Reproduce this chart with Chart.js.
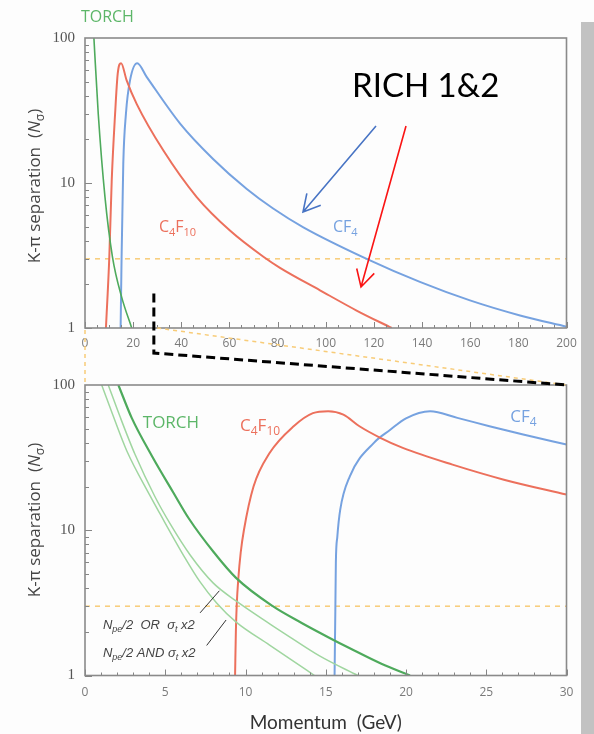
<!DOCTYPE html>
<html>
<head>
<meta charset="utf-8">
<script src="https://cdn.jsdelivr.net/npm/chart.js@4.4.1/dist/chart.umd.min.js"></script>
<style>
html, body { margin: 0; padding: 0; background: #fdfdfd; }
#page { position: relative; width: 594px; height: 734px; overflow: hidden; }
#bar { position: absolute; left: 581px; top: 22px; width: 13px; height: 712px; background: #c2c2c2; }
#topChart { position: absolute; left: 0; top: 0; width: 594px; height: 360px; }
#bottomChart { position: absolute; left: 0; top: 360px; width: 594px; height: 374px; }
#overlay { position: absolute; left: 0; top: 0; width: 594px; height: 734px; pointer-events: none; }
</style>
</head>
<body>
<div id="page">
  <div id="bar"></div>
  <canvas id="topChart" width="594" height="360"></canvas>
  <canvas id="bottomChart" width="594" height="374"></canvas>
  <canvas id="overlay" width="594" height="734"></canvas>
</div>
<script>
// axis ticks
const topTicks = [0, 20, 40, 60, 80, 100, 120, 140, 160, 180, 200];
const bottomTicks = [0, 5, 10, 15, 20, 25, 30];
const yTicks = [1, 10, 100];
const threshold = 3;

// top panel, 0-200 GeV
const torchTopP = [3.7, 5.5, 8.3, 11.4, 15.2, 19.4];
const torchTopN = [100, 30, 8.0, 3.1, 1.64, 1];
const c4f10TopP = [8.7, 10.1, 11.1, 12.5, 13.6, 15.0, 17.3, 21.5, 32.5, 46.4, 60.2, 74.1, 81, 97.6, 112.8, 127.4];
const c4f10TopN = [1, 3.1, 10.4, 30, 57, 67, 51, 35, 16.8, 8.0, 4.7, 3.1, 2.6, 1.82, 1.32, 1];
const cf4TopP = [14.8, 15.2, 15.9, 17.0, 18.7, 21.7, 25.6, 39.5, 53.3, 67.2, 78, 90.7, 117, 139.1, 159.9, 180.7, 200];
const cf4TopN = [1, 3.1, 13.6, 30, 51, 67, 54, 25.7, 14.6, 9.1, 6.7, 4.95, 3.0, 2.08, 1.55, 1.22, 1.02];

// bottom panel, 0-30 GeV
const torchP = [2.08, 2.91, 4.16, 5.5, 6.48, 8.0, 9.41, 11.7, 13.5, 15.3, 16.5, 18.5, 20.25];
const torchN = [100, 59.4, 32.6, 18.2, 12.0, 7.11, 4.70, 3.0, 2.3, 1.8, 1.54, 1.2, 1];
const torchOrP = [1.45, 2.18, 3.12, 4.36, 5.3, 6.54, 7.98, 9.41, 11.53, 12.77, 14.64, 17.0];
const torchOrN = [100, 60.6, 33.2, 17.0, 11.1, 6.78, 4.34, 3.26, 2.26, 1.84, 1.36, 1];
const torchAndP = [1.04, 1.77, 2.6, 4.05, 4.67, 6.23, 7.17, 8.2, 9.4, 11.5, 12.77, 14.3];
const torchAndN = [100, 60.6, 35.3, 17.3, 13.0, 6.46, 4.41, 3.16, 2.34, 1.62, 1.30, 1];
const c4f10P = [9.35, 9.4, 9.45, 9.55, 9.7, 9.9, 10.5, 11.5, 13.0, 14.2, 15.15, 16.1, 17.1, 18.4, 19.8, 22.9, 26.1, 30];
const c4f10N = [1, 2, 3, 4.6, 7, 10, 20, 34, 52, 64, 66, 62.5, 52, 43.3, 36.9, 28.3, 22.3, 17.6];
const cf4P = [15.55, 15.6, 15.63, 15.72, 15.9, 16.5, 18.0, 19.0, 20.0, 21.5, 23.2, 25.2, 27.3, 30];
const cf4N = [1, 3, 6, 9, 13.8, 23.5, 40, 49, 59, 66, 59.4, 52, 45.6, 38.9];

const RED = 'rgb(236,112,92)';
const BLUE = 'rgb(118,162,224)';
const GREEN = 'rgb(78,170,92)';
const LIGHTGREEN = 'rgb(160,214,160)';
const YELLOW = 'rgb(248,204,120)';

function pts(xs, ys) {
    return xs.map(function(x, i) { return {x: x, y: ys[i]}; });
}

function curve(xs, ys, color, width) {
    return {
        data: pts(xs, ys),
        borderColor: color,
        borderWidth: width,
        pointRadius: 0,
        fill: false,
        cubicInterpolationMode: 'monotone'
    };
}

function thresholdLine(lo, hi) {
    return {
        data: [{x: lo, y: threshold}, {x: hi, y: threshold}],
        borderColor: YELLOW,
        borderWidth: 1.5,
        borderDash: [5, 5],
        pointRadius: 0,
        fill: false
    };
}

// text with italic / subscript parts
function drawRich(ctx, parts, x, y, size, family, color, align) {
    let w = 0;
    const items = parts.map(function(p) {
        const s = p.sub ? Math.round(size * 0.68) : size;
        const font = (p.i ? 'italic ' : '') + s + 'px ' + family;
        ctx.font = font;
        const pw = ctx.measureText(p.t).width;
        w += pw;
        return {p: p, font: font, pw: pw};
    });
    let cx = align === 'center' ? x - w / 2 : x;
    ctx.fillStyle = color;
    ctx.textAlign = 'left';
    ctx.textBaseline = 'middle';
    items.forEach(function(it) {
        ctx.font = it.font;
        ctx.fillText(it.p.t, cx, y + (it.p.sub ? size * 0.32 : 0));
        cx += it.pw;
    });
}

const yTitle = [{t: 'K-π separation  ('}, {t: 'N', i: true}, {t: 'σ', sub: true}, {t: ')'}];

// frame, inward ticks, y title and curve labels
const decor = {
    id: 'decor',
    afterDatasetsDraw(chart, args, opts) {
        const ctx = chart.ctx;
        const a = chart.chartArea;
        const x = chart.scales.x, y = chart.scales.y;
        ctx.save();
        ctx.strokeStyle = '#858585';
        ctx.lineWidth = 1;
        ctx.beginPath();
        for (let d = 1; d < 100; d *= 10) {
            for (let k = 1; k <= 9; k++) {
                const py = Math.round(y.getPixelForValue(d * k)) + 0.5;
                const len = k === 1 ? 7 : 4;
                ctx.moveTo(a.left, py);
                ctx.lineTo(a.left + len, py);
            }
        }
        for (let v = x.min; v <= x.max + 1e-6; v += opts.minor) {
            const px = Math.round(x.getPixelForValue(v)) + 0.5;
            const len = Math.abs(v % opts.major) < 1e-6 ? 6 : 3;
            ctx.moveTo(px, a.bottom);
            ctx.lineTo(px, a.bottom - len);
        }
        ctx.stroke();
        ctx.lineWidth = 1.6;
        ctx.strokeStyle = '#8a8a8a';
        ctx.strokeRect(a.left, a.top, a.right - a.left, a.bottom - a.top);

        ctx.translate(35, opts.titleY);
        ctx.rotate(-Math.PI / 2);
        drawRich(ctx, yTitle, 0, 0, 17, '"Open Sans", sans-serif', '#454545', 'center');
        ctx.restore();

        ctx.save();
        opts.labels.forEach(function(l) {
            const px = x.getPixelForValue(l.x);
            const py = y.getPixelForValue(l.y);
            drawRich(ctx, l.parts, px, py, l.size, l.family || '"Open Sans", sans-serif', l.color, 'left');
        });
        (opts.leaders || []).forEach(function(s) {
            ctx.strokeStyle = '#333';
            ctx.lineWidth = 1;
            ctx.beginPath();
            ctx.moveTo(x.getPixelForValue(s[0]), y.getPixelForValue(s[1]));
            ctx.lineTo(x.getPixelForValue(s[2]), y.getPixelForValue(s[3]));
            ctx.stroke();
        });
        ctx.restore();
    }
};

function makeOptions(ticksList, padTop, xHeight, tickPad, showTitle, decorOpts) {
    return {
        responsive: false,
        animation: false,
        devicePixelRatio: 1,
        layout: { padding: { left: 0, right: 27.5, top: padTop, bottom: 0 } },
        plugins: {
            legend: { display: false },
            tooltip: { enabled: false },
            decor: decorOpts
        },
        scales: {
            x: {
                type: 'linear',
                min: ticksList[0],
                max: ticksList[ticksList.length - 1],
                afterBuildTicks: function(s) { s.ticks = ticksList.map(function(v) { return {value: v}; }); },
                afterFit: function(s) { s.height = xHeight; },
                grid: { display: false, drawTicks: false },
                border: { display: false },
                ticks: {
                    color: '#7a7a7a',
                    font: { family: '"Open Sans", sans-serif', size: 12 },
                    padding: tickPad,
                    maxRotation: 0,
                    autoSkip: false
                },
                title: {
                    display: showTitle,
                    text: 'Momentum  (GeV)',
                    color: '#333',
                    font: { family: 'Lato, sans-serif', size: 19 },
                    padding: { top: 0, bottom: 0 }
                }
            },
            y: {
                type: 'logarithmic',
                min: 1,
                max: 100,
                afterBuildTicks: function(s) { s.ticks = yTicks.map(function(v) { return {value: v}; }); },
                afterFit: function(s) { s.width = 85; },
                grid: { display: false, drawTicks: false },
                border: { display: false },
                ticks: {
                    color: '#555',
                    font: { family: '"Liberation Serif", serif', size: 15 },
                    padding: 10,
                    callback: function(v) { return String(v); }
                }
            }
        }
    };
}

const c4f10Label = [{t: 'C'}, {t: '4', sub: true}, {t: 'F'}, {t: '10', sub: true}];
const cf4Label = [{t: 'CF'}, {t: '4', sub: true}];

const topChart = new Chart(document.getElementById('topChart'), {
    type: 'line',
    data: {
        datasets: [
            curve(torchTopP, torchTopN, GREEN, 1.6),
            curve(c4f10TopP, c4f10TopN, RED, 2),
            curve(cf4TopP, cf4TopN, BLUE, 2),
            thresholdLine(0, 200)
        ]
    },
    options: makeOptions(topTicks, 38, 32, 8, false, {
        minor: 5, major: 20, titleY: 186,
        labels: [
            {x: -1.7, y: 138, parts: [{t: 'TORCH'}], size: 16, color: 'rgb(92,182,104)'},
            {x: 30.7, y: 4.9, parts: c4f10Label, size: 16, color: RED},
            {x: 103, y: 4.95, parts: cf4Label, size: 16, color: BLUE}
        ]
    }),
    plugins: [decor]
});

const orLabel = [{t: 'N', i: true}, {t: 'pe', sub: true, i: true}, {t: '/2  OR  ', i: true}, {t: 'σ', i: true}, {t: 't', sub: true, i: true}, {t: ' x2', i: true}];
const andLabel = [{t: 'N', i: true}, {t: 'pe', sub: true, i: true}, {t: '/2 AND ', i: true}, {t: 'σ', i: true}, {t: 't', sub: true, i: true}, {t: ' x2', i: true}];

const bottomChart = new Chart(document.getElementById('bottomChart'), {
    type: 'line',
    data: {
        datasets: [
            curve(torchP, torchN, GREEN, 2.2),
            curve(torchOrP, torchOrN, LIGHTGREEN, 1.5),
            curve(torchAndP, torchAndN, LIGHTGREEN, 1.5),
            curve(c4f10P, c4f10N, RED, 2),
            curve(cf4P, cf4N, BLUE, 2),
            thresholdLine(0, 30)
        ]
    },
    options: makeOptions(bottomTicks, 25, 58.5, 10, true, {
        minor: 1, major: 5, titleY: 160,
        labels: [
            {x: 3.6, y: 55, parts: [{t: 'TORCH'}], size: 17, color: 'rgb(92,182,104)'},
            {x: 9.66, y: 51.7, parts: c4f10Label, size: 17, color: RED},
            {x: 26.5, y: 59.7, parts: cf4Label, size: 17, color: BLUE},
            {x: 1.12, y: 2.23, parts: orLabel, size: 13, color: '#444', family: '"Liberation Sans", sans-serif'},
            {x: 1.12, y: 1.43, parts: andLabel, size: 13, color: '#444', family: '"Liberation Sans", sans-serif'}
        ],
        leaders: [[7.17, 2.70, 8.37, 3.83], [7.58, 1.61, 8.79, 2.41]]
    }),
    plugins: [decor]
});

// connectors and annotations spanning both panels
function arrow(ctx, x1, y1, x2, y2, color) {
    const ang = Math.atan2(y1 - y2, x1 - x2);
    const len = 19, spread = 0.5;
    ctx.strokeStyle = color;
    ctx.lineWidth = 1.6;
    ctx.beginPath();
    ctx.moveTo(x1, y1);
    ctx.lineTo(x2, y2);
    ctx.moveTo(x2 + len * Math.cos(ang + spread), y2 + len * Math.sin(ang + spread));
    ctx.lineTo(x2, y2);
    ctx.lineTo(x2 + len * Math.cos(ang - spread), y2 + len * Math.sin(ang - spread));
    ctx.stroke();
}

function drawOverlay() {
    const ctx = document.getElementById('overlay').getContext('2d');
    const off = 360;
    const tx = topChart.scales.x, ty = topChart.scales.y;
    const bx = bottomChart.scales.x;
    const tA = topChart.chartArea, bA = bottomChart.chartArea;

    ctx.save();
    ctx.strokeStyle = YELLOW;
    ctx.lineWidth = 1.5;
    ctx.setLineDash([4, 4]);
    ctx.beginPath();
    ctx.moveTo(tx.getPixelForValue(0), tA.bottom + 2);
    ctx.lineTo(bx.getPixelForValue(0), off + bA.top);
    ctx.moveTo(tx.getPixelForValue(30), tA.bottom);
    ctx.lineTo(bx.getPixelForValue(30), off + bA.top);
    ctx.stroke();

    ctx.strokeStyle = '#000';
    ctx.lineWidth = 3;
    ctx.setLineDash([9, 5]);
    ctx.beginPath();
    const vx = tx.getPixelForValue(28.6);
    ctx.moveTo(vx, ty.getPixelForValue(1.73));
    ctx.lineTo(vx, tA.bottom + 25);
    ctx.lineTo(bx.getPixelForValue(30), off + bA.top);
    ctx.stroke();
    ctx.restore();

    ctx.fillStyle = '#000';
    ctx.font = '33px Lato, sans-serif';
    ctx.textAlign = 'left';
    ctx.textBaseline = 'alphabetic';
    ctx.fillText('RICH 1&2', 352, 97);

    arrow(ctx, 376, 126, 303, 212, 'rgb(72,116,196)');
    arrow(ctx, 406, 126, 361, 287, 'rgb(250,20,20)');
}

window.onload = function() {
    drawOverlay();
};
</script>
</body>
</html>
